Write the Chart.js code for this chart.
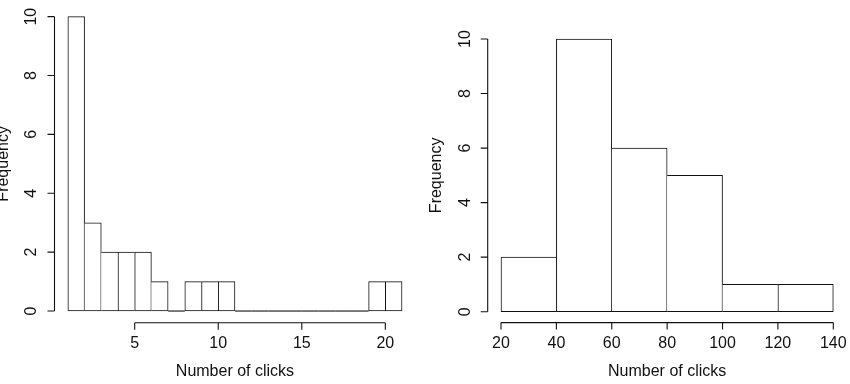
<!DOCTYPE html>
<html lang="en">
<head>
<meta charset="UTF-8">
<title>Number of clicks histograms</title>
<script src="https://cdn.jsdelivr.net/npm/chart.js"></script>
<style>
  html, body { margin: 0; padding: 0; background: #fff; }
  #wrap { position: relative; width: 850px; height: 384px; overflow: hidden; }
  canvas { position: absolute; top: 0; }
</style>
</head>
<body>
<div id="wrap">
  <canvas id="left" width="425" height="384" style="left:0"></canvas>
  <canvas id="right" width="425" height="384" style="left:425px"></canvas>
</div>
<script>
// left histogram: bin edges and counts
const leftBreaks = [1, 2, 3, 4, 5, 6, 7, 8, 9, 10, 11, 12, 13, 14, 15, 16, 17, 18, 19, 20, 21];
const leftCounts = [10, 3, 2, 2, 2, 1, 0, 1, 1, 1, 0, 0, 0, 0, 0, 0, 0, 0, 1, 1];
const leftXTicks = [5, 10, 15, 20];

// right histogram
const rightBreaks = [20, 40, 60, 80, 100, 120, 140];
const rightCounts = [2, 10, 6, 5, 1, 1];
const rightXTicks = [20, 40, 60, 80, 100, 120, 140];

const yTicks = [0, 2, 4, 6, 8, 10];
const xTitle = 'Number of clicks';
const yTitle = 'Frequency';

const FONT = '16px "Liberation Sans", Arial, sans-serif';
const INK = '#111';

// R style axes: line only between first and last tick, sitting on the plot edge
const rAxes = {
  id: 'rAxes',
  afterDatasetsDraw(chart, args, opts) {
    const ctx = chart.ctx;
    const xs = chart.scales.x, ys = chart.scales.y;
    const area = chart.chartArea;
    ctx.save();
    ctx.strokeStyle = INK;
    ctx.fillStyle = INK;
    ctx.lineWidth = 1.1;
    ctx.font = FONT;

    // flat lines for empty bins
    const y0 = ys.getPixelForValue(0);
    opts.counts.forEach((c, i) => {
      if (c !== 0) return;
      ctx.beginPath();
      ctx.moveTo(xs.getPixelForValue(opts.breaks[i]), y0);
      ctx.lineTo(xs.getPixelForValue(opts.breaks[i + 1]), y0);
      ctx.stroke();
    });

    // x axis
    const xa = area.bottom;
    const xt = opts.xTicks;
    ctx.beginPath();
    ctx.moveTo(xs.getPixelForValue(xt[0]), xa);
    ctx.lineTo(xs.getPixelForValue(xt[xt.length - 1]), xa);
    xt.forEach(v => {
      const p = xs.getPixelForValue(v);
      ctx.moveTo(p, xa);
      ctx.lineTo(p, xa + 7);
    });
    ctx.stroke();
    ctx.textAlign = 'center';
    ctx.textBaseline = 'middle';
    xt.forEach(v => ctx.fillText(String(v), xs.getPixelForValue(v), xa + 21));
    ctx.fillText(xTitle, (area.left + area.right) / 2, xa + 49);

    // y axis
    const ya = area.left;
    ctx.beginPath();
    ctx.moveTo(ya, ys.getPixelForValue(yTicks[0]));
    ctx.lineTo(ya, ys.getPixelForValue(yTicks[yTicks.length - 1]));
    yTicks.forEach(v => {
      const p = ys.getPixelForValue(v);
      ctx.moveTo(ya, p);
      ctx.lineTo(ya - 7, p);
    });
    ctx.stroke();
    yTicks.forEach(v => {
      ctx.save();
      ctx.translate(ya - 22.6, ys.getPixelForValue(v));
      ctx.rotate(-Math.PI / 2);
      ctx.fillText(String(v), 0, 0);
      ctx.restore();
    });
    ctx.save();
    ctx.translate(ya - 50.7, (area.top + area.bottom) / 2);
    ctx.rotate(-Math.PI / 2);
    ctx.fillText(yTitle, 0, 0);
    ctx.restore();
    ctx.restore();
  }
};

function histogram(id, breaks, counts, xTicks, padding) {
  const points = counts.map((c, i) => ({ x: (breaks[i] + breaks[i + 1]) / 2, y: c }));
  const lo = breaks[0], hi = breaks[breaks.length - 1];
  const ext = (hi - lo) * 0.04;
  // each shared edge is drawn once, by the taller bar
  const edges = ctx => {
    const i = ctx.dataIndex;
    const c = counts[i];
    const prev = i > 0 ? counts[i - 1] : -1;
    const next = i < counts.length - 1 ? counts[i + 1] : -1;
    return { top: 1, bottom: 1, left: prev <= c ? 1 : 0, right: next < c ? 1 : 0 };
  };
  return new Chart(document.getElementById(id), {
    type: 'bar',
    data: {
      datasets: [{
        data: points,
        backgroundColor: '#fff',
        borderColor: '#111',
        borderWidth: edges,
        borderSkipped: false,
        barPercentage: 1,
        categoryPercentage: 1
      }]
    },
    options: {
      responsive: false,
      animation: false,
      layout: { padding: padding },
      plugins: {
        legend: { display: false },
        tooltip: { enabled: false },
        rAxes: { breaks: breaks, counts: counts, xTicks: xTicks }
      },
      scales: {
        x: { type: 'linear', display: false, offset: false, min: lo - ext, max: hi + ext },
        y: { display: false, min: -0.4, max: 10.4 }
      }
    },
    plugins: [rAxes]
  });
}

histogram('left', leftBreaks, leftCounts, leftXTicks,
  { left: 54.5, right: 9.6, top: 4.9, bottom: 61.2 });
histogram('right', rightBreaks, rightCounts, rightXTicks,
  { left: 62.7, right: 3.4, top: 28.1, bottom: 61.4 });
</script>
</body>
</html>
